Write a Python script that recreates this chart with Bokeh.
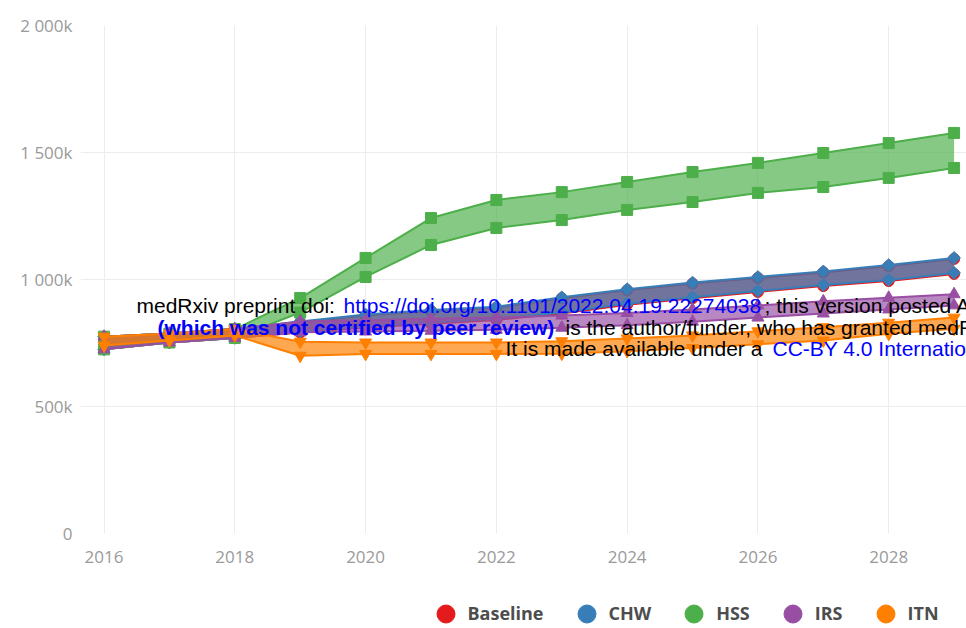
import math
from bokeh.plotting import figure
from bokeh.layouts import column
from bokeh.models import Range1d, FixedTicker, Legend, LegendItem, Label, ColumnDataSource
from bokeh.embed import file_html
from bokeh.resources import INLINE

# ---------------- data (values in thousands) ----------------
years = list(range(2016, 2030))
series_names = ["Baseline", "CHW", "HSS", "IRS", "ITN"]
colors = ["#e41a1c", "#377eb8", "#4daf4a", "#984ea3", "#ff7f00"]

baseline_upper = [775, 787, 805, 831, 858, 876, 889, 926, 958, 984, 1006, 1028, 1053, 1081]
baseline_lower = [725, 752, 770, 791, 811, 826, 841, 866, 901, 926, 951, 974, 994, 1022]
chw_upper = [775, 787, 805, 835, 862, 880, 893, 930, 962, 988, 1010, 1032, 1057, 1085]
chw_lower = [725, 752, 770, 795, 815, 830, 845, 870, 905, 930, 955, 978, 998, 1026]
hss_upper = [775, 787, 805, 927, 1085, 1242, 1313, 1344, 1384, 1423, 1459, 1498, 1537, 1577]
hss_lower = [725, 752, 770, 870, 1010, 1136, 1203, 1234, 1274, 1305, 1341, 1364, 1400, 1439]
irs_upper = [775, 787, 805, 835, 840, 845, 850, 858, 868, 882, 898, 914, 928, 942]
irs_lower = [725, 752, 770, 792, 795, 798, 802, 810, 820, 834, 850, 866, 882, 898]
itn_upper = [775, 787, 805, 755, 752, 752, 752, 757, 768, 780, 796, 812, 830, 850]
itn_lower = [740, 760, 780, 700, 707, 707, 707, 708, 718, 730, 745, 760, 786, 806]

x_ticks = [2016, 2018, 2020, 2022, 2024, 2026, 2028]
x_tick_labels = ["2016", "2018", "2020", "2022", "2024", "2026", "2028"]
y_ticks = [0, 500, 1000, 1500, 2000]
y_tick_labels = ["0", "500k", "1 000k", "1 500k", "2 000k"]

uppers = [baseline_upper, chw_upper, hss_upper, irs_upper, itn_upper]
lowers = [baseline_lower, chw_lower, hss_lower, irs_lower, itn_lower]
markers = [("circle", 11, 0.0), ("square", 9, math.pi / 4), ("square", 11, 0.0),
           ("triangle", 12, 0.0), ("inverted_triangle", 12, 0.0)]

# ---------------- main figure ----------------
p = figure(width=966, height=580, output_backend="svg", toolbar_location=None,
           x_range=Range1d(2015.64, 2029.19), y_range=Range1d(0, 2000),
           min_border_left=80, min_border_right=0, min_border_top=25, min_border_bottom=47)
p.outline_line_color = None
p.background_fill_color = "white"
p.border_fill_color = "white"

for ax in (p.xaxis[0], p.yaxis[0]):
    ax.axis_line_color = None
    ax.major_tick_line_color = None
    ax.minor_tick_line_color = None
    ax.major_tick_out = 0
    ax.major_tick_in = 0
    ax.major_label_text_font = "Open Sans"
    ax.major_label_text_font_size = "17px"
    ax.major_label_text_color = "#9a9a9a"

p.xaxis[0].ticker = FixedTicker(ticks=x_ticks)
p.xaxis[0].major_label_overrides = {t: l for t, l in zip(x_ticks, x_tick_labels)}
p.xaxis[0].major_label_standoff = 17
p.yaxis[0].ticker = FixedTicker(ticks=y_ticks)
p.yaxis[0].major_label_overrides = {t: l for t, l in zip(y_ticks, y_tick_labels)}
p.yaxis[0].major_label_standoff = 8

p.xgrid[0].ticker = FixedTicker(ticks=x_ticks)
p.ygrid[0].ticker = FixedTicker(ticks=y_ticks)
for g in (p.xgrid[0], p.ygrid[0]):
    g.grid_line_color = "#ececec"
    g.grid_line_width = 1

for name, col, up, lo, (mk, sz, ang) in zip(series_names, colors, uppers, lowers, markers):
    src = ColumnDataSource(dict(x=years, up=up, lo=lo))
    p.varea(x="x", y1="lo", y2="up", source=src, fill_color=col, fill_alpha=0.68)
    p.line(x="x", y="up", source=src, line_color=col, line_width=2)
    p.line(x="x", y="lo", source=src, line_color=col, line_width=2)
    p.scatter(x="x", y="up", source=src, marker=mk, size=sz, angle=ang,
              fill_color=col, line_color=col)
    p.scatter(x="x", y="lo", source=src, marker=mk, size=sz, angle=ang,
              fill_color=col, line_color=col)

# ---------------- medRxiv watermark overlay ----------------
wm = [
    (56, 228, "medRxiv preprint doi: ", "#000000", "normal"),
    (263, 228, "https://doi.org/10.1101/2022.04.19.22274038", "#0000ff", "normal"),
    (684, 228, "; this version posted April 22, 2022. The copyright holder for this preprint", "#000000", "normal"),
    (77, 206, "(which was not certified by peer review)", "#0000ff", "bold"),
    (485, 206, "is the author/funder, who has granted medRxiv a license to display the preprint in perpetuity.", "#000000", "normal"),
    (425, 185, "It is made available under a ", "#000000", "normal"),
    (692, 185, "CC-BY 4.0 International license", "#0000ff", "normal"),
]
for x, y, t, c, st in wm:
    p.add_layout(Label(x=x, y=y, x_units="screen", y_units="screen", text=t,
                       text_color=c, text_font="Liberation Sans", text_font_size="21px",
                       text_font_style=st, text_baseline="alphabetic", text_align="left"))

# ---------------- legend strip ----------------
q = figure(width=966, height=48, output_backend="svg", toolbar_location=None,
           x_range=Range1d(0, 1), y_range=Range1d(0, 1),
           x_axis_location=None, y_axis_location=None,
           min_border_left=0, min_border_right=0, min_border_top=0, min_border_bottom=0)
q.outline_line_color = None
q.xgrid.visible = False
q.ygrid.visible = False
q.background_fill_color = "white"
q.border_fill_color = "white"

legend_items = []
for name, col in zip(series_names, colors):
    dummy = q.scatter(x=[-10], y=[-10], marker="circle", size=18, fill_color=col, line_color=col)
    legend_items.append(LegendItem(label=name, renderers=[dummy]))

legend = Legend(items=legend_items, orientation="horizontal", location=(342.5, -7.5),
                glyph_width=45, glyph_height=45, label_standoff=-2, spacing=20,
                padding=0, margin=0, border_line_alpha=0, background_fill_alpha=0,
                label_text_font="Open Sans", label_text_font_style="bold",
                label_text_font_size="18px", label_text_color="#4d4d4d")
q.add_layout(legend, "center")

layout = column(p, q, spacing=0)
open("out.html", "w").write(file_html(layout, INLINE))
